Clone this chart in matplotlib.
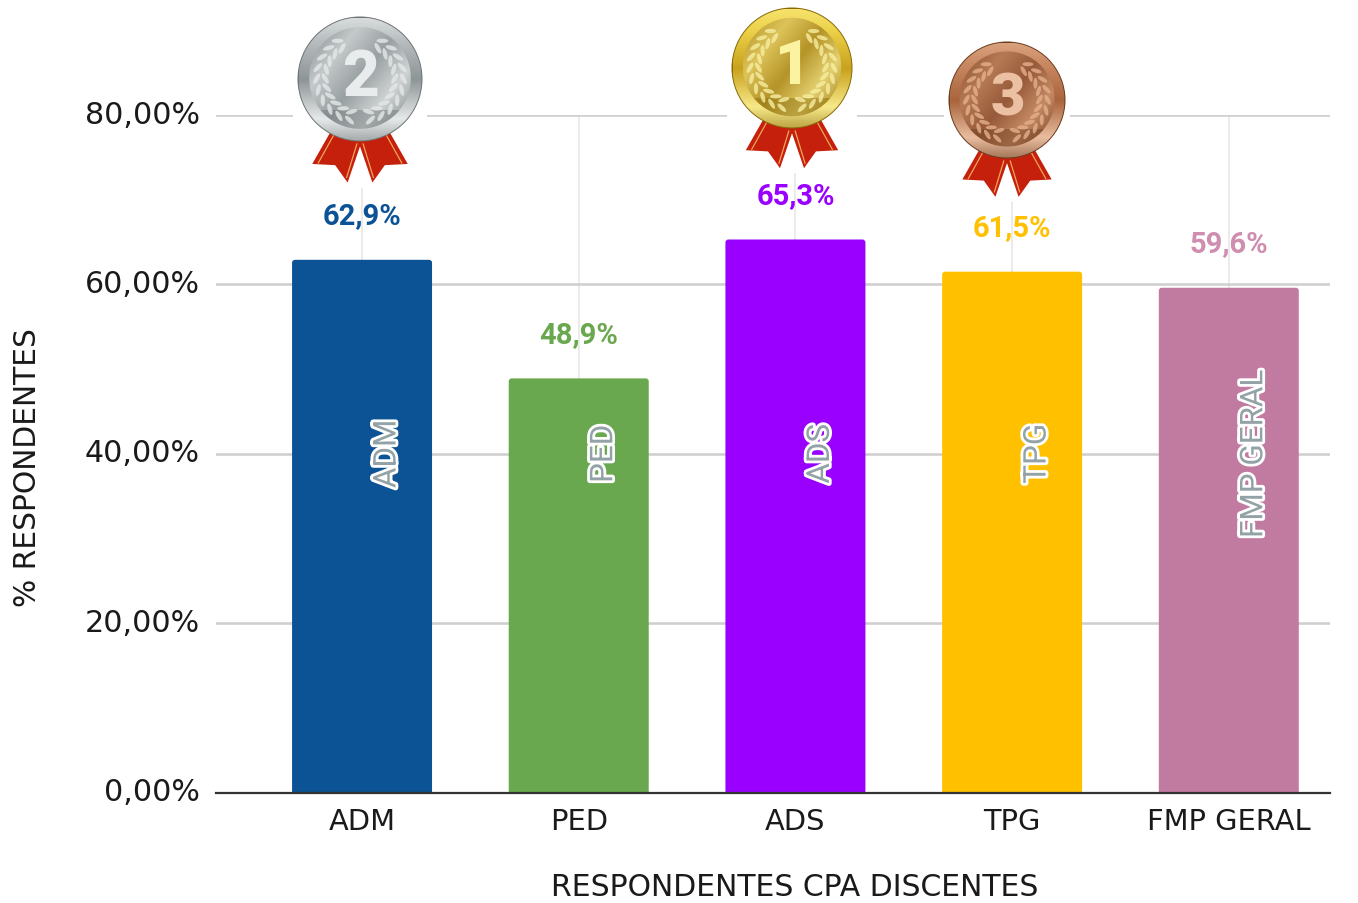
import matplotlib
matplotlib.use('Agg')
import matplotlib.pyplot as plt
import matplotlib.patheffects as pe
from matplotlib.colors import LinearSegmentedColormap
from matplotlib.patches import Circle, Ellipse, FancyBboxPatch, Polygon, Rectangle
from matplotlib.transforms import ScaledTranslation
import numpy as np

categories = ['ADM', 'PED', 'ADS', 'TPG', 'FMP GERAL']
values = [62.9, 48.9, 65.3, 61.5, 59.6]
value_labels = ['62,9%', '48,9%', '65,3%', '61,5%', '59,6%']
colors = ['#0B5394', '#6AA84F', '#9900FF', '#FFC000', '#C27BA0']
label_colors = ['#0B5394', '#6AA84F', '#9900FF', '#FFC000', '#CF8DB0']
y_ticks = [0, 20, 40, 60, 80]
y_tick_labels = ['0,00%', '20,00%', '40,00%', '60,00%', '80,00%']

# medal decorations, in pixels of the picture
medal_digits = ['2', '1', '3']
medal_x = [360, 792, 1007]
medal_y = [80, 69, 101]
medal_r = [62, 60, 58]
medal_ring = [['#f4f6f6', '#b9bfc1', '#8e9597', '#e6e9e9', '#6f7577'],
              ['#fff08a', '#ecd24a', '#c9a21c', '#f7e98a', '#8a6a08'],
              ['#e8b493', '#c98a63', '#a9643c', '#e9bd9f', '#6d3d20']]
medal_disc = [['#8d9496', '#c4c9ca', '#99a0a2', '#cfd3d3', '#8b9294'],
              ['#b8962a', '#dcc35a', '#b59428', '#e4d070', '#a8861c'],
              ['#8f5532', '#b67b55', '#96593a', '#c58a64', '#7f4a2b']]
medal_leaf = ['#e4e8e8', '#f7eea0', '#e6b08c']
medal_digit = ['#e9ecec', '#fbf3a2', '#ecc0a2']

W, H = 1358, 904
fig = plt.figure(figsize=(W / 100, H / 100), dpi=100, facecolor='white')
ax = fig.add_axes([216 / W, (H - 793.5) / H, (1330 - 216) / W, (793.5 - 116) / H])
ax.set_xlim(-0.674, 4.467)
ax.set_ylim(0, 80)
ax.set_axisbelow(True)
ax.grid(axis='y', color='#d0d0d0', lw=1.9)
ax.grid(axis='x', color='#e6e6e6', lw=1.1)

font = 'DejaVu Sans'
for i, v in enumerate(values):
    ax.add_patch(FancyBboxPatch((i - 0.323, -2), 0.646, v + 2,
                                boxstyle='round,pad=0,rounding_size=0.014',
                                mutation_aspect=25, fc=colors[i], ec='none', zorder=2))
    ax.annotate(value_labels[i], (i, v), xytext=(0, 32.2), textcoords='offset points',
                ha='center', va='center', family='Roboto', weight='bold',
                fontsize=21, color=label_colors[i], zorder=3)
    ax.annotate(categories[i], (i, 40), xytext=(18, 0), textcoords='offset points',
                ha='center', va='center', rotation=90, family='Roboto', weight='normal',
                fontsize=22.6, color='#93a2a6', zorder=3,
                path_effects=[pe.withStroke(linewidth=4, foreground='white')])

ax.set_xticks(range(len(categories)))
ax.set_xticklabels(categories, fontsize=20.8, color='#1a1a1a', family=font)
ax.set_yticks(y_ticks)
ax.set_yticklabels(y_tick_labels, fontsize=21.7, color='#1a1a1a', family=font)
ax.tick_params(axis='both', length=0)
ax.tick_params(axis='y', pad=11.5)
ax.tick_params(axis='x', pad=10.7)
up = ScaledTranslation(0, 4 / 100, fig.dpi_scale_trans)
for t in ax.get_yticklabels():
    t.set_transform(t.get_transform() + up)
for s in ['top', 'left', 'right']:
    ax.spines[s].set_visible(False)
ax.spines['bottom'].set_color('#333333')
ax.spines['bottom'].set_linewidth(1.6)
ax.spines['bottom'].set_zorder(4)

fig.text(28 / W, (H - 468) / H, '% RESPONDENTES', rotation=90, ha='center', va='center',
         fontsize=21.4, color='#1a1a1a', family=font)
fig.text(795 / W, (H - 896.5) / H, 'RESPONDENTES CPA DISCENTES', ha='center', va='baseline',
         fontsize=21.5, color='#1a1a1a', family=font)

# overlay in picture pixels for the medals
ov = fig.add_axes([0, 0, 1, 1], facecolor='none')
ov.axis('off')


def gradient(x, y, r, cols, angle, z):
    n = 160
    yy, xx = np.mgrid[-1:1:n * 1j, -1:1:n * 1j]
    g = (xx * np.sin(angle) + yy * np.cos(angle) + 1.3) / 2.6
    cmap = LinearSegmentedColormap.from_list('m', cols)
    im = ov.imshow(g, cmap=cmap, vmin=0, vmax=1, extent=(x - r, x + r, y + r, y - r),
                   origin='upper', aspect='auto', zorder=z, interpolation='bilinear')
    clip = Circle((x, y), r, transform=ov.transData, fc='none', ec='none')
    ov.add_patch(clip)
    im.set_clip_path(clip)


def ribbon(x, y, r, side):
    pts = np.array([[0.48, 0.86], [0.77, 1.37], [0.40, 1.39], [0.20, 1.67], [-0.03, 1.0]])
    pts = pts * [side, 1] * r + [x, y]
    ov.add_patch(Polygon(pts, fc='#c4200c', ec='none', zorder=6))
    a, b = pts[0], pts[1]
    c, d = pts[4], pts[3]
    ov.plot([a[0] - side * 5, b[0] - side * 6], [a[1], b[1] - 1], color='#f2a45c', lw=0.9, zorder=7)
    ov.plot([c[0] + side * 5, d[0] + side * 1], [c[1] + 3, d[1] - 5], color='#f2a45c', lw=0.9, zorder=7)


for k, digit in enumerate(medal_digits):
    x, y, r = medal_x[k], medal_y[k], medal_r[k]
    # the medal pictures sit on white squares that hide the grid
    ov.add_patch(Rectangle((x - r * 1.08, 0), r * 2.16, y + r * 1.75, fc='white', ec='none', zorder=5))
    ribbon(x, y, r, -1)
    ribbon(x, y, r, 1)
    ov.add_patch(Circle((x, y), r + 0.5, fc=medal_ring[k][4], ec='none', zorder=8))
    gradient(x, y, r - 0.5, medal_ring[k], 0.0, 9)
    gradient(x, y - 1, r * 0.82, medal_disc[k], 0.9, 10)
    # darker lower band of the inner disc
    band = Circle((x, y - 1), r * 0.82, transform=ov.transData, fc='none', ec='none')
    ov.add_patch(band)
    low = ov.fill_between([x - r, x + r], y + r * 0.5, y + r, color=medal_ring[k][4],
                          alpha=0.45, lw=0, zorder=11)
    low.set_clip_path(band)
    # laurel, open at the top and nearly closed at the bottom
    for side in (-1, 1):
        for a in np.radians(np.arange(14, 150, 15)):
            rad = r * 0.63
            lx = x + side * rad * np.sin(a)
            ly = y - 1 + rad * np.cos(a)
            tang = np.degrees(np.arctan2(-np.sin(a), side * np.cos(a)))
            for off, tilt in ((-0.07, side * 30), (0.07, -side * 30)):
                ov.add_patch(Ellipse((lx + side * off * r * np.sin(a), ly + off * r * np.cos(a)),
                                     r * 0.19, r * 0.07, angle=tang + tilt,
                                     fc=medal_leaf[k], ec='none', alpha=0.8, zorder=12))
    ov.text(x + 1, y - 2, digit, ha='center', va='center', family='Roboto', weight='black',
            fontsize=r * 0.74, color=medal_digit[k], zorder=13)

ov.set_xlim(0, W)
ov.set_ylim(H, 0)
fig.savefig('out.png', dpi=100)
